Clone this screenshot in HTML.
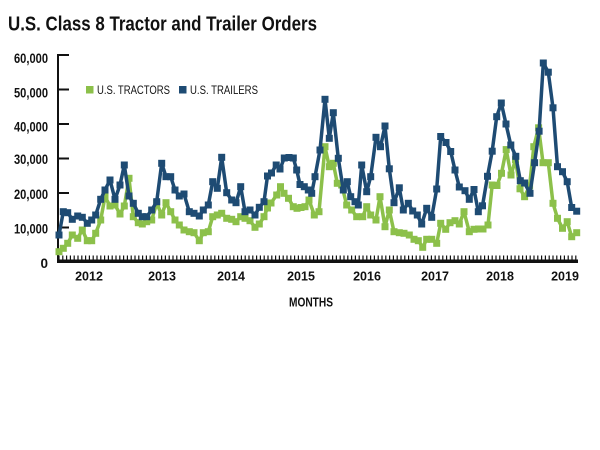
<!DOCTYPE html>
<html>
<head>
<meta charset="utf-8">
<style>
html,body{margin:0;padding:0;background:#fff;}
body{width:600px;height:450px;overflow:hidden;}
svg{display:block;}
text{font-family:"Liberation Sans",sans-serif;fill:#111;}
</style>
</head>
<body>
<svg width="600" height="450" viewBox="0 0 600 450" xmlns="http://www.w3.org/2000/svg">
  <rect width="600" height="450" fill="#fff"/>
  <!-- Title -->
  <text x="8" y="30.5" font-size="20" font-weight="bold" textLength="309" lengthAdjust="spacingAndGlyphs">U.S. Class 8 Tractor and Trailer Orders</text>

  <!-- Y axis -->
  <line x1="58" y1="54" x2="58" y2="263" stroke="#111" stroke-width="2"/>
  <g stroke="#111" stroke-width="2">
    <line x1="58" y1="55" x2="69" y2="55"/>
    <line x1="58" y1="89.5" x2="69" y2="89.5"/>
    <line x1="58" y1="124" x2="69" y2="124"/>
    <line x1="58" y1="158.5" x2="69" y2="158.5"/>
    <line x1="58" y1="193" x2="69" y2="193"/>
    <line x1="58" y1="227.5" x2="69" y2="227.5"/>
  </g>
  <g font-size="13.5" font-weight="bold" text-anchor="end">
    <text x="48" y="63" textLength="34" lengthAdjust="spacingAndGlyphs">60,000</text>
    <text x="48" y="97.5" textLength="34" lengthAdjust="spacingAndGlyphs">50,000</text>
    <text x="48" y="131.5" textLength="34" lengthAdjust="spacingAndGlyphs">40,000</text>
    <text x="48" y="164" textLength="34" lengthAdjust="spacingAndGlyphs">30,000</text>
    <text x="48" y="199" textLength="34" lengthAdjust="spacingAndGlyphs">20,000</text>
    <text x="48" y="233.5" textLength="34" lengthAdjust="spacingAndGlyphs">10,000</text>
    <text x="48" y="268">0</text>
  </g>

  <!-- X axis -->
  <rect x="57" y="259.5" width="521" height="3.5" fill="#111"/>
  <g id="tickg" stroke="#111" stroke-width="1.2"></g>

  <g font-size="12.5" font-weight="bold" text-anchor="middle">
    <text x="89" y="280.5">2012</text>
    <text x="162" y="280.5">2013</text>
    <text x="231" y="280.5">2014</text>
    <text x="301" y="280.5">2015</text>
    <text x="367" y="280.5">2016</text>
    <text x="435" y="280.5">2017</text>
    <text x="500" y="280.5">2018</text>
    <text x="565" y="280.5">2019</text>
  </g>
  <text x="289" y="306.5" font-size="13" font-weight="bold" textLength="44" lengthAdjust="spacingAndGlyphs">MONTHS</text>

  <!-- Legend -->
  <rect x="86" y="86" width="7.5" height="7.5" fill="#8cc04a"/>
  <text x="97" y="94" font-size="12" textLength="73" lengthAdjust="spacingAndGlyphs">U.S. TRACTORS</text>
  <rect x="179" y="86" width="7.5" height="7.5" fill="#1e4b73"/>
  <text x="190" y="94" font-size="12" textLength="68" lengthAdjust="spacingAndGlyphs">U.S. TRAILERS</text>

  <!-- Series -->
  <g id="series"></g>
</svg>
<script>
(function(){
  var NS="http://www.w3.org/2000/svg";
  var tg=document.getElementById("tickg");
  for(var x=59;x<=578;x+=3.8){
    var l=document.createElementNS(NS,"line");
    l.setAttribute("x1",x.toFixed(1));l.setAttribute("x2",x.toFixed(1));
    l.setAttribute("y1","255.5");l.setAttribute("y2","260");
    tg.appendChild(l);
  }
  var green=[59,251.7,63.3,248.3,67.7,243.3,72.3,235,77.7,238.3,82.3,230,87.3,240.7,91.7,240.7,95.7,233.3,100.7,220,105,196.7,110,206,115,205,120,214,124.3,206,129,178.3,133.3,216.7,138.3,222.7,142.3,224,146.7,221.7,151.7,220,156.7,203,161.7,215,166,202.7,170.7,211.7,175,220,179.3,225,184,230,189.3,231.7,194,232.7,199.3,240.7,203.3,232.7,208.3,231.7,212.7,216.7,217.3,215,221.7,213.3,226.7,218.3,231.7,219.3,236,221.7,240.7,216.7,245,218.3,250,220.7,255,227.3,259.3,224,264,216.7,267.5,208,271,203,276.7,195,280.5,186.7,284,193.3,288.5,198.3,293.3,206.7,297,208.3,301,207.5,305,206.7,309,200,314.3,215,319,211.7,325,146.7,329.3,166.7,333.3,163.3,337.3,183.3,341.7,185,346.7,205,351.7,210,356.7,216.7,362.7,216.7,366.7,206.7,370.7,215,376,220,380,196.7,385,226.7,389.3,210,394,231.7,399.3,232.7,404,233.3,409.3,235,414,239.3,418.3,240.7,422.7,247.3,426.7,239.3,431.7,239.3,436.7,243.3,440.7,223.3,445.7,229.3,450,222.7,455,220.7,459.3,224,464,211.7,469.3,231.7,474,229.3,478.5,229,483,229,488,225,492.2,185,497,185.5,501.5,173.3,506.2,149.6,511,175,515.5,159.6,520,188.8,524.6,196.7,529.6,185.8,533.8,146.7,538.6,127.8,543,162.7,548.3,162.7,553,203.3,557.5,218.3,562.5,228.3,567.2,221.7,571.7,236.7,576.7,232.7];
  var blue=[59,235,63.3,211.7,67.7,212.7,72.3,219.3,77.7,216,82.3,217.3,87.3,223.3,91.7,220,95.7,215,100.7,199.3,105,190,110,180,115,199.3,120,185,124.3,165,129,196,133.3,203.3,138.3,213.3,142.3,216.7,146.7,216.7,151.7,210,156.7,201.7,161.7,163.3,166,176.7,170.7,176.7,175,190,179.3,196,184,194,189.3,211.7,194,213.3,199.3,216,203.3,210,208.3,205,212.7,181.7,217.3,188.3,221.7,157.3,226.7,192.7,231.7,200,236,202.7,240.7,186.7,245,211.7,250,210,255,215,259.3,207.3,264,201.7,267.5,176,271.5,173,276.2,165,280,169,284.3,158,289,157.5,293.3,158,296.7,170,300,184.5,304.3,186.7,308.3,190,311.7,193.3,315,176.7,320,150,325,99.3,329.3,138.3,333.3,112.7,338.3,158.3,343.3,190,347.3,181.7,350.7,196.7,355,201.7,358.3,205,361.7,165,366.7,191.7,370.7,176.7,376,137.3,380.5,146.7,385,126,389.3,168.8,394,202.7,399.3,187.8,403.3,210,408.3,203.3,412.7,211,417.3,215,421.7,224,426.7,208.3,431.7,217.3,436.7,189,440.7,136.5,446,142.5,450.7,151.5,455,170,459.3,187,465,190.7,469.3,199.3,474,189.5,478.3,211.7,482.5,205.8,487.5,176.3,492.2,151.2,496.7,116.7,501.3,103,506,124,510.8,145,515.8,156.3,520.3,180.7,524.6,183,530,193.3,534.6,162.7,539.1,131.2,543.3,63,548.3,72.2,553,107.8,557.5,166.7,562.5,171.7,567.2,181.7,571.7,207.5,576.7,211.2];
  var sg=document.getElementById("series");
  function draw(arr,col){
    var pts=[];
    for(var i=0;i<arr.length;i+=2){pts.push(arr[i]+","+arr[i+1]);}
    var pl=document.createElementNS(NS,"polyline");
    pl.setAttribute("points",pts.join(" "));
    pl.setAttribute("fill","none");pl.setAttribute("stroke",col);
    pl.setAttribute("stroke-width","3.5");pl.setAttribute("stroke-linejoin","round");
    sg.appendChild(pl);
    for(var j=0;j<arr.length;j+=2){
      var r=document.createElementNS(NS,"rect");
      r.setAttribute("x",(arr[j]-3.5).toFixed(1));r.setAttribute("y",(arr[j+1]-3.5).toFixed(1));
      r.setAttribute("width","7");r.setAttribute("height","7");r.setAttribute("fill",col);
      sg.appendChild(r);
    }
  }
  draw(green,"#8cc04a");
  draw(blue,"#1e4b73");
})();
</script>
</body>
</html>
